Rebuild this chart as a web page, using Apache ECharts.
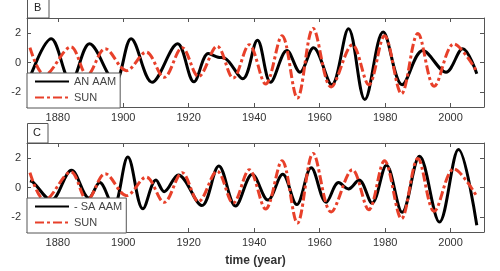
<!DOCTYPE html>
<html>
<head>
<meta charset="utf-8">
<script src="https://cdn.jsdelivr.net/npm/echarts@6/dist/echarts.min.js"></script>
<style>
  html, body { margin: 0; padding: 0; background: #fff; }
  #chart { width: 500px; height: 271px; }
</style>
</head>
<body>
<div id="chart"></div>
<script>
// tick labels
const xTicks = [1880, 1900, 1920, 1940, 1960, 1980, 2000]
const yTicks = [-2, 0, 2]

// solar series (same in both panels), read at peaks / troughs
const sunYears = [1871.5, 1876, 1884, 1889, 1894.5, 1901, 1907, 1912.5, 1918, 1923, 1928.7, 1933.6, 1938.5, 1943.5, 1948.5, 1953.2, 1958, 1963.5, 1970, 1975, 1979.8, 1985, 1990, 1995, 2001, 2008]
const sunVals  = [1.0, -0.85, 1.05, -0.85, 0.93, -0.55, 0.7, -1.0, 1.0, -0.95, 1.1, -1.05, 1.2, -1.45, 1.8, -2.4, 2.3, -1.65, 1.2, -1.5, 1.8, -2.1, 1.95, -1.6, 1.25, -0.6]

// panel B: AN AAM
const anYears = [1871, 1878, 1884, 1889.7, 1897.5, 1902.4, 1908.8, 1916.6, 1921.6, 1926, 1929, 1931, 1936.5, 1941, 1945, 1950, 1954, 1958.1, 1963.7, 1968.8, 1973.8, 1979.4, 1985.2, 1991.5, 1998.6, 2003.7, 2008]
const anVals  = [-1.3, 1.6, -1.3, 1.26, -1.3, 1.6, -1.33, 1.26, -1.3, 0.6, 0.35, 0.3, -1.1, 1.5, -1.33, 0.81, -0.65, 1.0, -1.5, 2.27, -2.5, 2.05, -1.5, 0.81, -0.65, 0.93, -0.76]

// panel C: - SA AAM
const saYears = [1871.5, 1872.5, 1878, 1884.2, 1889.5, 1892.8, 1897, 1901.4, 1906, 1910, 1912.5, 1916.8, 1924, 1929.2, 1934.3, 1939.4, 1944.2, 1948.7, 1953, 1957.4, 1962, 1965.8, 1968.8, 1972, 1976, 1980.4, 1985.2, 1990.5, 1996.6, 2002.4, 2008]
const saVals  = [0.45, 0.35, -0.85, 1.16, -0.7, 0.33, -1.3, 2.05, -1.44, 0.5, -0.28, 0.85, -1.22, 1.45, -1.25, 0.89, -0.85, 0.89, -1.15, 1.33, -1.0, 0.33, -0.1, 0.5, -1.05, 1.5, -1.67, 2.1, -2.33, 2.56, -2.55]

const FONT = 'Liberation Sans, Arial, sans-serif'
const AXIS_COLOR = '#555'
const RED = '#e8402a'
const SMOOTH = 0.35

const zip = (xs, ys) => xs.map((x, i) => [x, ys[i]])

// x axis; the top copy only carries the inner ticks of the box
function xAxisFor(grid, pos, withLabels, name) {
  return {
    type: 'value', gridIndex: grid, position: pos,
    min: 1870.6, max: 2010.2,
    name: name || '', nameLocation: 'middle', nameGap: 23,
    nameTextStyle: { fontFamily: FONT, fontSize: 12, fontWeight: 'bold', color: '#333' },
    axisLine: { show: true, onZero: false, lineStyle: { color: AXIS_COLOR, width: 1 } },
    axisTick: { show: true, inside: true, length: 4, customValues: xTicks, lineStyle: { color: AXIS_COLOR } },
    axisLabel: {
      show: withLabels, customValues: xTicks, margin: 5,
      formatter: v => String(v),
      fontFamily: FONT, fontSize: 11, color: '#333'
    },
    splitLine: { show: false }
  }
}

function yAxisFor(grid, pos, withLabels) {
  return {
    type: 'value', gridIndex: grid, position: pos,
    min: -3, max: 3,
    axisLine: { show: true, onZero: false, lineStyle: { color: AXIS_COLOR, width: 1 } },
    axisTick: { show: true, inside: true, length: 4, customValues: yTicks, lineStyle: { color: AXIS_COLOR } },
    axisLabel: { show: withLabels, customValues: yTicks, margin: 6, fontFamily: FONT, fontSize: 11, color: '#333' },
    splitLine: { show: false }
  }
}

function legendFor(top, names) {
  return {
    orient: 'vertical', left: 27, top: top,
    data: names,
    itemWidth: 34, itemHeight: 10, itemGap: 5,
    padding: [3, 4, 5, 7],
    itemStyle: { opacity: 0 },
    backgroundColor: '#fff', borderColor: AXIS_COLOR, borderWidth: 1, borderRadius: 0,
    textStyle: { fontFamily: FONT, fontSize: 11, color: '#444' },
    selectedMode: false
  }
}

function lineSeries(name, axis, xs, ys, color, dashed) {
  return {
    name: name, type: 'line', xAxisIndex: axis, yAxisIndex: axis,
    data: zip(xs, ys), smooth: SMOOTH, symbol: 'none',
    lineStyle: { color: color, width: 3, type: dashed ? [9, 3, 3, 3] : 'solid' },
    itemStyle: { color: color }
  }
}

const chart = echarts.init(document.getElementById('chart'))

const option = {
  animation: false,
  backgroundColor: '#fff',
  grid: [
    { left: 27, top: 18, width: 457, height: 89 },
    { left: 27, top: 143, width: 457, height: 89 }
  ],
  xAxis: [
    xAxisFor(0, 'bottom', true),
    xAxisFor(0, 'top', false),
    xAxisFor(1, 'bottom', true, 'time (year)'),
    xAxisFor(1, 'top', false)
  ],
  yAxis: [
    yAxisFor(0, 'left', true),
    yAxisFor(0, 'right', false),
    yAxisFor(1, 'left', true),
    yAxisFor(1, 'right', false)
  ],
  legend: [
    legendFor(73, ['AN AAM', 'SUN']),
    legendFor(198, ['- SA AAM', 'SUN'])
  ],
  graphic: [
    { type: 'rect', shape: { x: 27.5, y: -1, width: 21.5, height: 19 }, style: { fill: '#fff', stroke: AXIS_COLOR, lineWidth: 1 } },
    { type: 'text', style: { text: 'B', x: 34, y: 2, font: '11px ' + FONT, fill: '#222' } },
    { type: 'rect', shape: { x: 27.5, y: 123.5, width: 20.5, height: 19.5 }, style: { fill: '#fff', stroke: AXIS_COLOR, lineWidth: 1 } },
    { type: 'text', style: { text: 'C', x: 33, y: 127, font: '11px ' + FONT, fill: '#222' } }
  ],
  series: [
    lineSeries('AN AAM', 0, anYears, anVals, '#000', false),
    lineSeries('SUN', 0, sunYears, sunVals, RED, true),
    lineSeries('- SA AAM', 2, saYears, saVals, '#000', false),
    lineSeries('SUN', 2, sunYears, sunVals, RED, true)
  ]
}

chart.setOption(option)
</script>
</body>
</html>
